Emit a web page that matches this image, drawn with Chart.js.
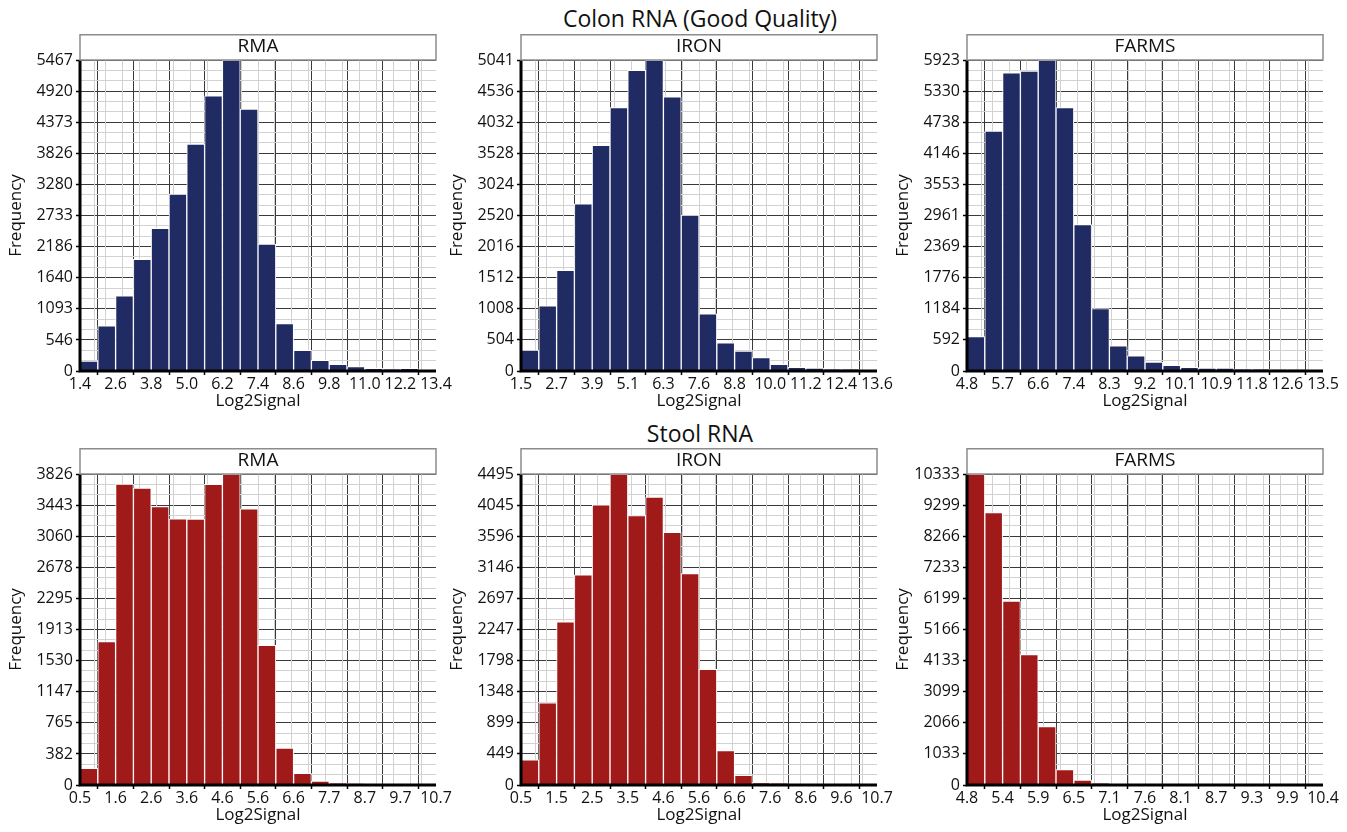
<!DOCTYPE html>
<html>
<head>
<meta charset="utf-8">
<script src="https://cdn.jsdelivr.net/npm/chart.js@4.4.0/dist/chart.umd.min.js"></script>
<style>
  body { margin: 0; background: #fff; width: 1347px; height: 832px; position: relative; overflow: hidden; font-family: 'Open Sans', sans-serif; }
  canvas { position: absolute; }
  .suptitle { position: absolute; left: 0; width: 1400px; text-align: center; font-size: 23px; line-height: 30px; color: #111; }
</style>
</head>
<body>
<div class="suptitle" style="top:3px">Colon RNA (Good Quality)</div>
<div class="suptitle" style="top:418px">Stool RNA</div>

<canvas id="colonRma" width="456" height="382" style="left:0px;top:34px"></canvas>
<canvas id="colonIron" width="456" height="382" style="left:441px;top:34px"></canvas>
<canvas id="colonFarms" width="456" height="382" style="left:887px;top:34px"></canvas>
<canvas id="stoolRma" width="456" height="382" style="left:0px;top:448px"></canvas>
<canvas id="stoolIron" width="456" height="382" style="left:441px;top:448px"></canvas>
<canvas id="stoolFarms" width="456" height="382" style="left:887px;top:448px"></canvas>

<script>
// Histogram counts (20 bins per panel)
const colonRmaCounts = [176, 792, 1320, 1965, 2510, 3108, 3988, 4839, 5467, 4604, 2229, 833, 364, 188, 117, 76, 47, 29, 47, 18];
const colonIronCounts = [338, 1056, 1633, 2711, 3658, 4268, 4872, 5041, 4442, 2526, 925, 457, 321, 218, 109, 60, 49, 27, 33, 16];
const colonFarmsCounts = [656, 4567, 5681, 5713, 5923, 5019, 2790, 1191, 478, 287, 172, 108, 70, 57, 57, 32, 32, 25, 25, 19];
const stoolRmaCounts = [206, 1763, 3702, 3653, 3426, 3274, 3270, 3698, 3826, 3397, 1717, 453, 144, 49, 21, 16, 10, 8, 7, 6];
const stoolIronCounts = [363, 1187, 2359, 3037, 4050, 4495, 3895, 4161, 3652, 3057, 1671, 499, 140, 34, 24, 15, 10, 8, 6, 5];
const stoolFarmsCounts = [10333, 9055, 6111, 4333, 1944, 511, 167, 56, 33, 22, 15, 12, 10, 8, 7, 6, 5, 4, 4, 3];

// X tick labels (Log2Signal bin edges)
const colonRmaX = ['1.4', '2.6', '3.8', '5.0', '6.2', '7.4', '8.6', '9.8', '11.0', '12.2', '13.4'];
const colonIronX = ['1.5', '2.7', '3.9', '5.1', '6.3', '7.6', '8.8', '10.0', '11.2', '12.4', '13.6'];
const colonFarmsX = ['4.8', '5.7', '6.6', '7.4', '8.3', '9.2', '10.1', '10.9', '11.8', '12.6', '13.5'];
const stoolRmaX = ['0.5', '1.6', '2.6', '3.6', '4.6', '5.6', '6.6', '7.7', '8.7', '9.7', '10.7'];
const stoolIronX = ['0.5', '1.5', '2.5', '3.5', '4.6', '5.6', '6.6', '7.6', '8.6', '9.6', '10.7'];
const stoolFarmsX = ['4.8', '5.4', '5.9', '6.5', '7.1', '7.6', '8.1', '8.7', '9.3', '9.9', '10.4'];

// Y tick labels (Frequency)
const colonRmaY = [0, 546, 1093, 1640, 2186, 2733, 3280, 3826, 4373, 4920, 5467];
const colonIronY = [0, 504, 1008, 1512, 2016, 2520, 3024, 3528, 4032, 4536, 5041];
const colonFarmsY = [0, 592, 1184, 1776, 2369, 2961, 3553, 4146, 4738, 5330, 5923];
const stoolRmaY = [0, 382, 765, 1147, 1530, 1913, 2295, 2678, 3060, 3443, 3826];
const stoolIronY = [0, 449, 899, 1348, 1798, 2247, 2697, 3146, 3596, 4045, 4495];
const stoolFarmsY = [0, 1033, 2066, 3099, 4133, 5166, 6199, 7233, 8266, 9299, 10333];

const NAVY = '#1f2b62';
const RED = '#a11a1a';
const FONT = "'Open Sans', sans-serif";

// Gray framed box around the panel title
const titleBoxPlugin = {
    id: 'titleBox',
    afterDraw(chart) {
        const tb = chart.titleBlock;
        const a = chart.chartArea;
        if (!tb) return;
        const ctx = chart.ctx;
        ctx.save();
        ctx.strokeStyle = '#8c8c8c';
        ctx.lineWidth = 1.5;
        ctx.strokeRect(a.left, tb.top + 0.75, a.right - a.left, a.top - tb.top - 0.75);
        ctx.restore();
    }
};

// Thick black axis lines drawn on top of the bars
const axisLinePlugin = {
    id: 'axisLines',
    afterDatasetsDraw(chart) {
        const a = chart.chartArea;
        const ctx = chart.ctx;
        ctx.save();
        ctx.strokeStyle = '#000';
        ctx.lineWidth = 3;
        ctx.beginPath();
        ctx.moveTo(a.left, a.top);
        ctx.lineTo(a.left, a.bottom);
        ctx.lineTo(a.right, a.bottom);
        ctx.stroke();
        ctx.restore();
    }
};

function createHistogram(canvasId, title, counts, xLabels, yLabels, barColor) {
    const ctx = document.getElementById(canvasId);
    const binCount = counts.length;
    const majorStep = binCount / (xLabels.length - 1);
    const yMax = yLabels[yLabels.length - 1];
    const points = counts.map((v, i) => ({ x: i + 0.5, y: v }));

    const tickFont = { family: FONT, size: 16, lineHeight: 1 };

    return new Chart(ctx, {
        type: 'bar',
        data: {
            datasets: [{
                data: points,
                backgroundColor: barColor,
                borderColor: '#ffffff',
                borderWidth: 1,
                barPercentage: 1,
                categoryPercentage: 1
            }]
        },
        plugins: [titleBoxPlugin, axisLinePlugin],
        options: {
            responsive: false,
            animation: false,
            layout: { padding: { left: 0, right: 20, top: 0, bottom: 0 } },
            plugins: {
                legend: { display: false },
                tooltip: { enabled: false },
                title: {
                    display: true,
                    text: title,
                    fullSize: false,
                    color: '#111',
                    font: { family: FONT, size: 19, weight: 'normal', lineHeight: '20px' },
                    padding: { top: 3, bottom: 3 }
                }
            },
            scales: {
                x: {
                    type: 'linear',
                    position: 'bottom',
                    min: 0,
                    max: binCount,
                    offset: false,
                    afterBuildTicks: s => { s.ticks = xLabels.map((_, k) => ({ value: k * majorStep })); },
                    afterFit: s => { s.height = 45; },
                    ticks: {
                        autoSkip: false,
                        maxRotation: 0,
                        padding: 1,
                        color: '#111',
                        font: tickFont,
                        callback: (v, i) => xLabels[i]
                    },
                    grid: { color: '#3a3a3a', lineWidth: 1, tickLength: 4, tickColor: '#000', tickWidth: 1.5 },
                    border: { display: false },
                    title: {
                        display: true,
                        text: 'Log2Signal',
                        color: '#111',
                        font: { family: FONT, size: 17 },
                        padding: { top: 0, bottom: 5 }
                    }
                },
                y: {
                    type: 'linear',
                    position: 'left',
                    min: 0,
                    max: yMax,
                    afterBuildTicks: s => { s.ticks = yLabels.map(v => ({ value: v })); },
                    afterFit: s => { s.width = 80; },
                    ticks: {
                        autoSkip: false,
                        padding: 3,
                        color: '#111',
                        font: tickFont,
                        callback: (v, i) => String(yLabels[i])
                    },
                    grid: { color: '#3a3a3a', lineWidth: 1, tickLength: 4, tickColor: '#000', tickWidth: 1.5 },
                    border: { display: false },
                    title: {
                        display: true,
                        text: 'Frequency',
                        color: '#111',
                        font: { family: FONT, size: 17 },
                        padding: { top: 6, bottom: 0 }
                    }
                },
                xMinor: {
                    type: 'linear',
                    position: 'bottom',
                    z: -1,
                    min: 0,
                    max: binCount,
                    afterBuildTicks: s => {
                        const t = [];
                        for (let k = 1; k < binCount * 3 / majorStep; k++) {
                            if (k % 3 !== 0) t.push({ value: k * majorStep / 3 });
                        }
                        s.ticks = t;
                    },
                    afterFit: s => { s.height = 0; },
                    ticks: { display: false },
                    grid: { color: '#d2d2d2', lineWidth: 1, drawTicks: false },
                    border: { display: false }
                },
                yMinor: {
                    type: 'linear',
                    position: 'left',
                    z: -1,
                    min: 0,
                    max: yMax,
                    afterBuildTicks: s => {
                        const t = [];
                        for (let k = 1; k < 30; k++) {
                            if (k % 3 !== 0) t.push({ value: k * yMax / 30 });
                        }
                        s.ticks = t;
                    },
                    afterFit: s => { s.width = 0; },
                    ticks: { display: false },
                    grid: { color: '#d2d2d2', lineWidth: 1, drawTicks: false },
                    border: { display: false }
                }
            }
        }
    });
}

createHistogram('colonRma', 'RMA', colonRmaCounts, colonRmaX, colonRmaY, NAVY);
createHistogram('colonIron', 'IRON', colonIronCounts, colonIronX, colonIronY, NAVY);
createHistogram('colonFarms', 'FARMS', colonFarmsCounts, colonFarmsX, colonFarmsY, NAVY);
createHistogram('stoolRma', 'RMA', stoolRmaCounts, stoolRmaX, stoolRmaY, RED);
createHistogram('stoolIron', 'IRON', stoolIronCounts, stoolIronX, stoolIronY, RED);
createHistogram('stoolFarms', 'FARMS', stoolFarmsCounts, stoolFarmsX, stoolFarmsY, RED);
</script>
</body>
</html>
